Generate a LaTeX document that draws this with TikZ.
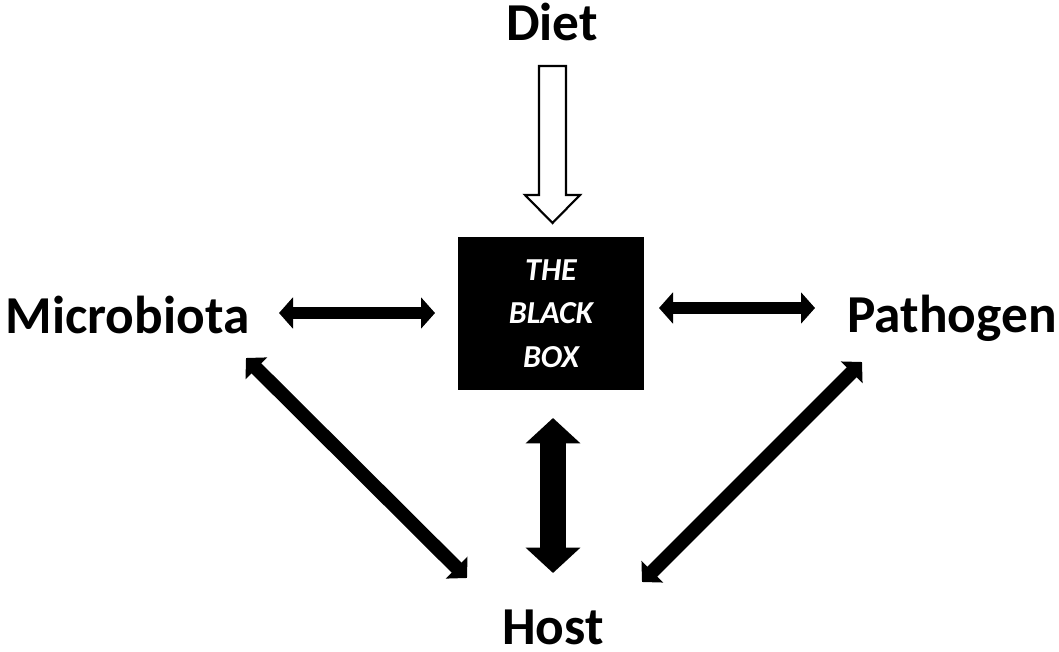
\documentclass[tikz,border=0pt]{standalone}
\usepackage{fontspec}
\setmainfont{Carlito}
\usetikzlibrary{arrows.meta, calc}

\begin{document}
\begin{tikzpicture}[
    x=0.75pt, y=-0.75pt,
    term/.style={
        font=\fontsize{40}{48}\selectfont\bfseries,
        anchor=base,
        inner sep=0pt
    },
    box/.style={
        rectangle,
        fill=black,
        minimum width=139.5pt,
        minimum height=114.75pt,
        align=center,
        text=white,
        font=\fontsize{24}{32.5}\selectfont\bfseries\itshape
    },
    twoway/.style={
        line width=9pt,
        {Triangle[width=23pt,length=10.5pt]}-{Triangle[width=23pt,length=10.5pt]}
    },
    slant/.style={
        line width=10.5pt,
        {Triangle[width=22.5pt,length=11pt]}-{Triangle[width=22.5pt,length=11pt]}
    },
    thick way/.style={
        line width=20pt,
        {Triangle[width=40pt,length=19pt]}-{Triangle[width=40pt,length=19pt]}
    },
    hollow/.style={
        draw=black,
        fill=white,
        line width=1.6pt,
        line join=miter
    }
]
\useasboundingbox (0,0) rectangle (1059,652);

\node[term] (diet) at (552,41) {Diet};
\node[term] (micro) at (127.5,333) {Microbiota};
\node[term] (patho) at (952,332) {Pathogen};
\node[term] (host) at (553,644) {Host};
\node[box] (blackbox) at (551,313.5) {THE\\BLACK\\BOX};

% diet feeds the box
\coordinate (dietin) at (552.5,66);
\coordinate (dietout) at (552.5,223);
\draw[hollow] ($(dietin)+(-13.5,0)$) -- ($(dietin)+(13.5,0)$)
    -- ($(dietout)+(13.5,-28)$) -- ($(dietout)+(27.5,-28)$) -- (dietout)
    -- ($(dietout)+(-27.5,-28)$) -- ($(dietout)+(-13.5,-28)$) -- cycle;

% two-way links
\coordinate (mb1) at (279,313);
\coordinate (mb2) at (435,313);
\coordinate (bp1) at (659,308);
\coordinate (bp2) at (815,308);
\coordinate (bh1) at (553,418);
\coordinate (bh2) at (553,573);
\coordinate (mh1) at (246,358);
\coordinate (mh2) at (467,578);
\coordinate (ph1) at (862,362);
\coordinate (ph2) at (642,582);

\draw[twoway] (mb1) -- (mb2);
\draw[twoway] (bp1) -- (bp2);
\draw[thick way] (bh1) -- (bh2);
\draw[slant] (mh1) -- (mh2);
\draw[slant] (ph1) -- (ph2);
\end{tikzpicture}
\end{document}
